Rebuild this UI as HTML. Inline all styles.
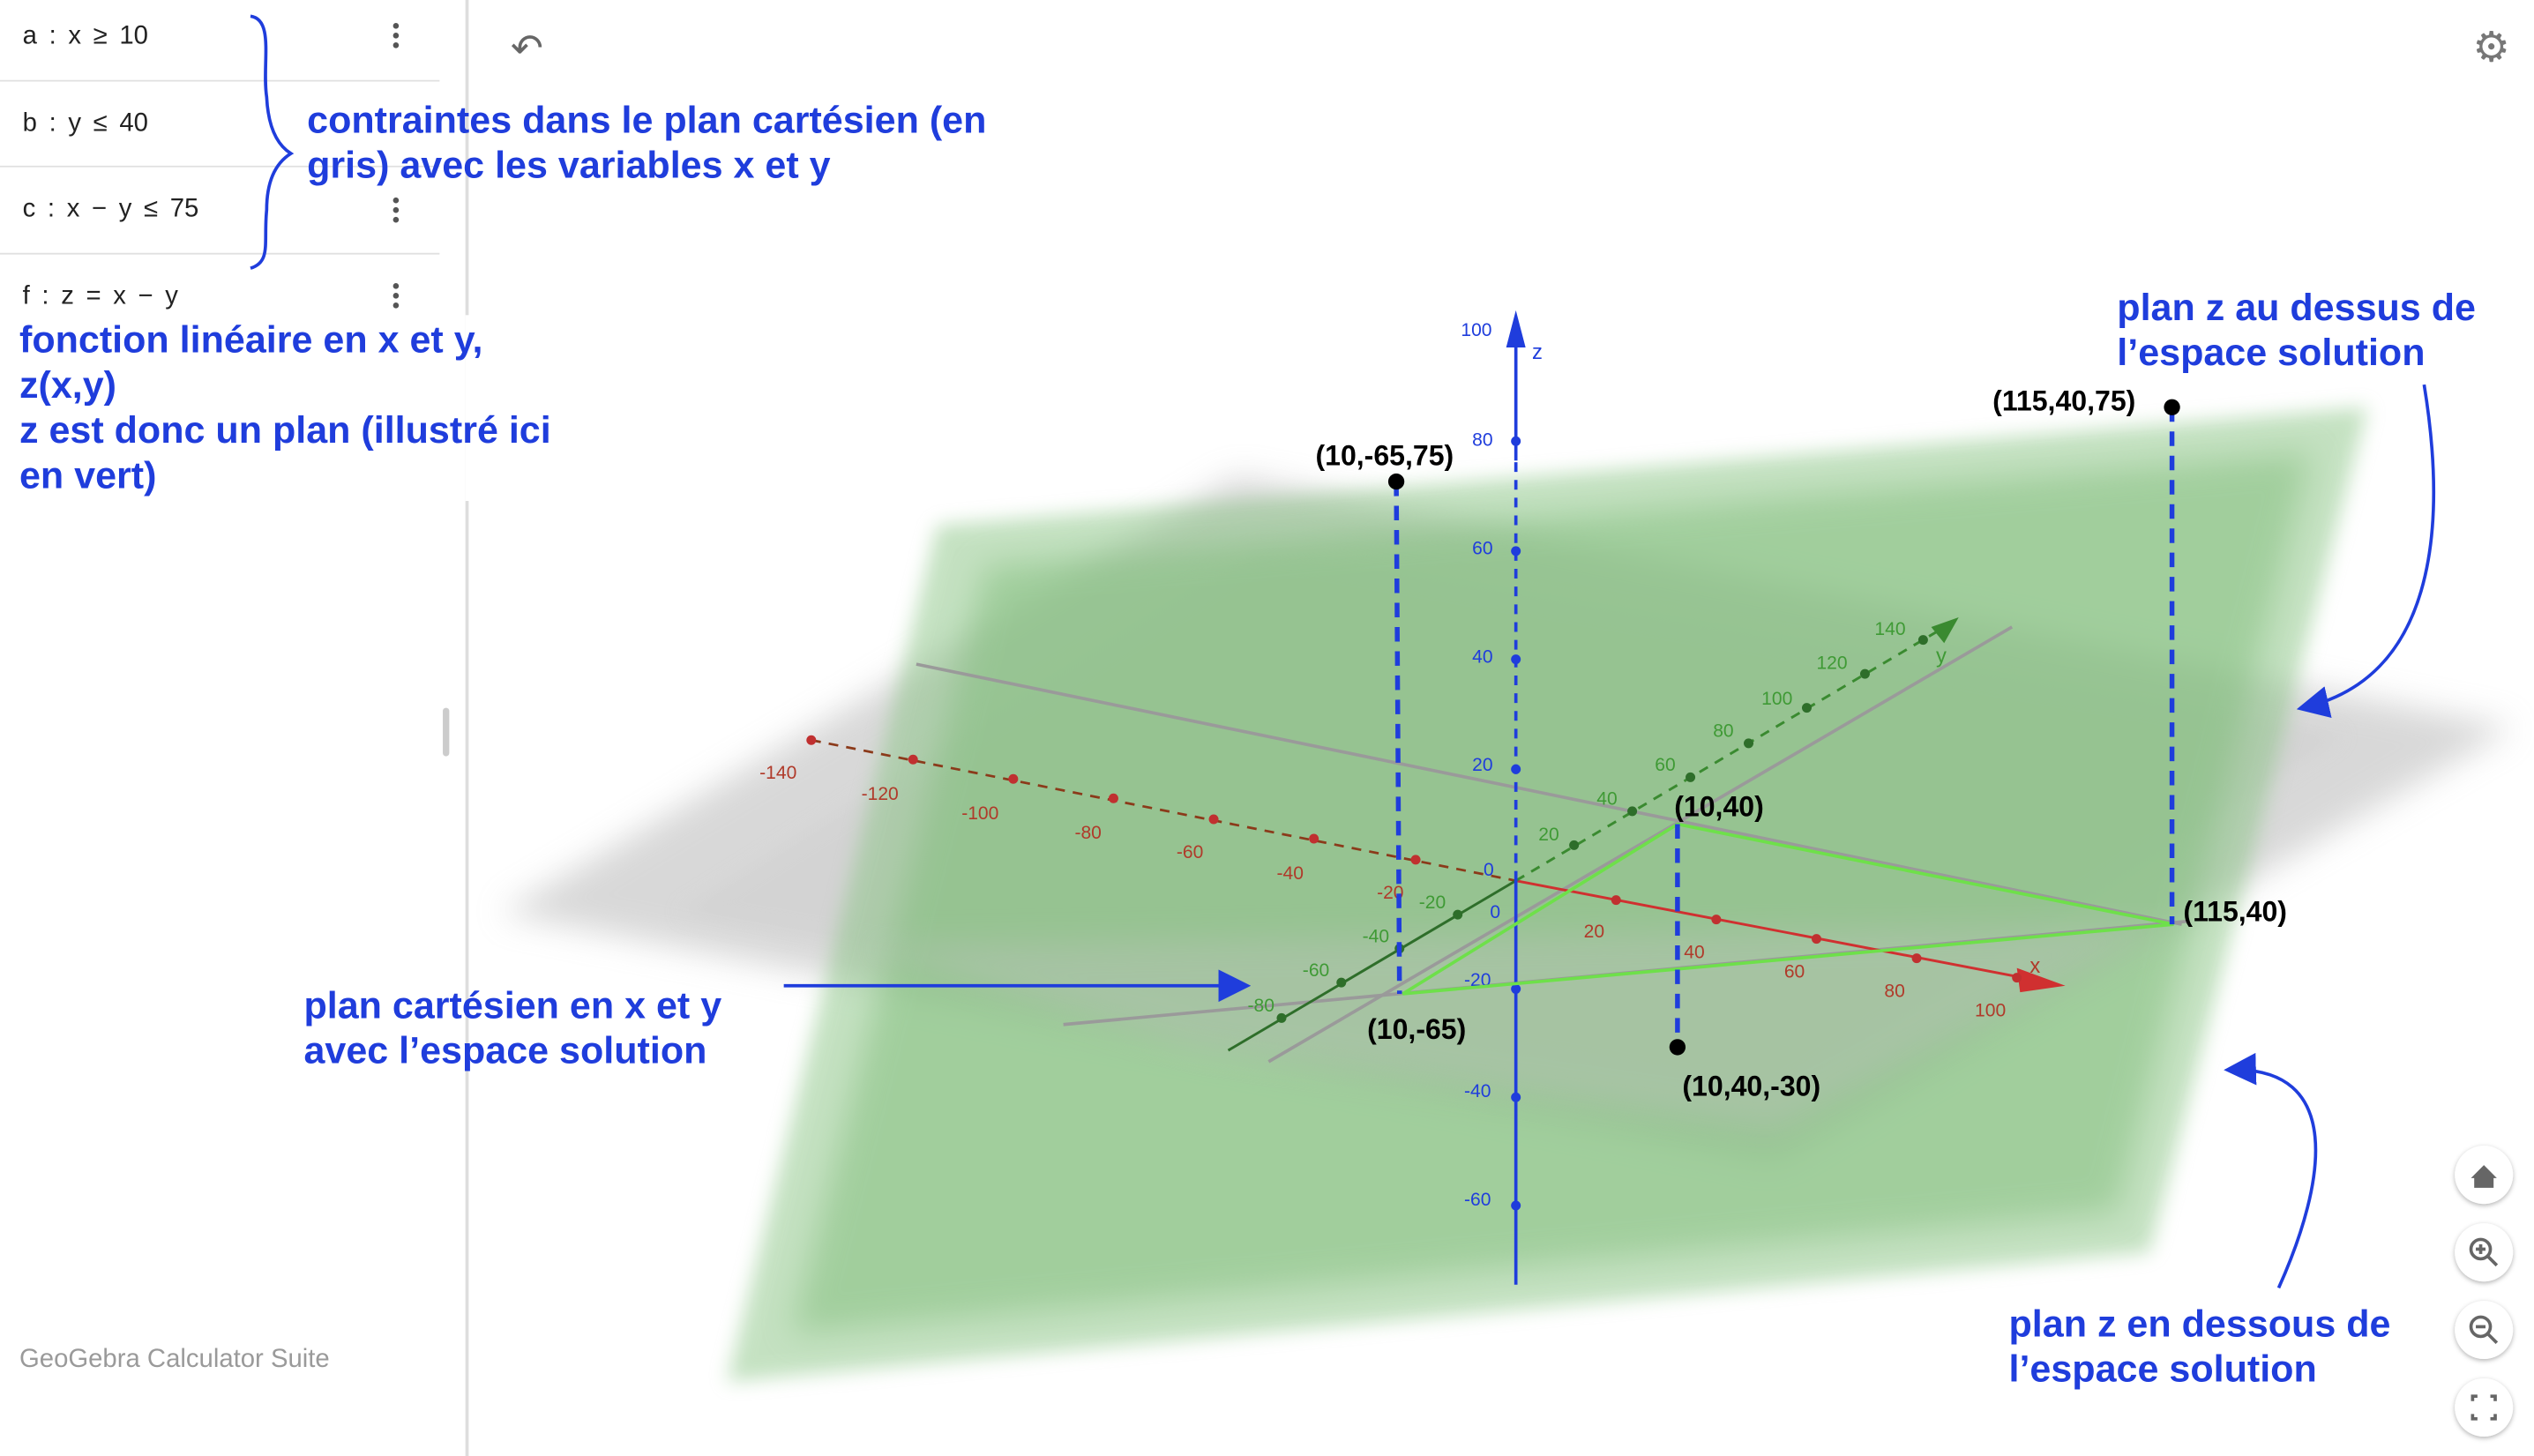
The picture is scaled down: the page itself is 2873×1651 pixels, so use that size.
<!DOCTYPE html>
<html><head><meta charset="utf-8"><style>
html,body{margin:0;padding:0;background:#fff;}
svg{display:block;}
text{font-family:"Liberation Sans",sans-serif;}
.ann{fill:#1f3ddc;font-weight:bold;font-size:23.5px;}
.lab{fill:#000;font-weight:bold;font-size:17.5px;}
.row{fill:#222;font-size:16px;word-spacing:3px;}
.tk{font-size:11.5px;}
</style></head><body>
<svg width="2873" height="1651" viewBox="0 0 1568 901" preserveAspectRatio="none" xmlns="http://www.w3.org/2000/svg">
<defs>
<filter id="b1" x="-10%" y="-10%" width="120%" height="120%"><feGaussianBlur stdDeviation="10"/></filter>
<filter id="b2" x="-10%" y="-10%" width="120%" height="120%"><feGaussianBlur stdDeviation="6"/></filter>
<filter id="sh"><feDropShadow dx="0" dy="1" stdDeviation="1.5" flood-opacity="0.3"/></filter>
<marker id="ah" markerWidth="10" markerHeight="10" refX="8" refY="5" orient="auto"><path d="M0,0 L10,5 L0,10 z" fill="#1f3ddc"/></marker>
</defs>
<!-- gray plane -->
<polygon points="310,565 765,295 1555,450 1098,717" fill="#c4c4c4" opacity="0.65" filter="url(#b1)"/>
<polygon points="420,565 780,340 1450,455 1098,680" fill="#cfcfcf" opacity="0.5" filter="url(#b2)"/>
<!-- green plane -->
<polygon points="580,325 1465,252 1330,775 450,855" fill="#8ac585" opacity="0.5" filter="url(#b2)"/>
<polygon points="610,350 1430,280 1310,750 490,825" fill="#7fbc79" opacity="0.5" filter="url(#b1)"/>
<polygon points="530,585 1345,572 1100,700 740,650" fill="#c4c4c4" opacity="0.35" filter="url(#b1)"/>
<!-- gray constraint lines -->
<g stroke="#9a9a9a" stroke-width="2">
<line x1="567" y1="411" x2="1350" y2="572"/>
<line x1="785" y1="657" x2="1245" y2="388"/>
<line x1="658" y1="634" x2="1355" y2="570"/>
</g>
<!-- x axis -->
<line x1="502" y1="458" x2="938" y2="545" stroke="#8b3a1a" stroke-width="1.5" stroke-dasharray="6,5"/>
<line x1="938" y1="545" x2="1262" y2="607" stroke="#d03030" stroke-width="1.6"/>
<polygon points="1278,610 1248,599 1250,614" fill="#d03030"/>
<g fill="#c03030">
<circle cx="502" cy="458" r="3"/><circle cx="565" cy="470" r="3"/><circle cx="627" cy="482" r="3"/><circle cx="689" cy="494" r="3"/><circle cx="751" cy="507" r="3"/><circle cx="813" cy="519" r="3"/><circle cx="876" cy="532" r="3"/><circle cx="1000" cy="557" r="3"/><circle cx="1062" cy="569" r="3"/><circle cx="1124" cy="581" r="3"/><circle cx="1186" cy="593" r="3"/><circle cx="1248" cy="605" r="3"/>
</g>
<g class="tk" fill="#b03a2a">
<text x="470" y="482">-140</text><text x="533" y="495">-120</text><text x="595" y="507">-100</text><text x="665" y="519">-80</text><text x="728" y="531">-60</text><text x="790" y="544">-40</text><text x="852" y="556">-20</text><text x="980" y="580">20</text><text x="1042" y="593">40</text><text x="1104" y="605">60</text><text x="1166" y="617">80</text><text x="1222" y="629">100</text>
<text x="1256" y="602" font-size="13">x</text>
</g>
<!-- y axis -->
<line x1="760" y1="650" x2="938" y2="545" stroke="#2e6e2a" stroke-width="1.6"/>
<line x1="938" y1="545" x2="1200" y2="390" stroke="#3a8a30" stroke-width="1.6" stroke-dasharray="6,5"/>
<polygon points="1212,382 1195,388 1203,398" fill="#3a8a30"/>
<g fill="#2e6e2a">
<circle cx="793" cy="630" r="3"/><circle cx="830" cy="608" r="3"/><circle cx="866" cy="587" r="3"/><circle cx="902" cy="566" r="3"/><circle cx="974" cy="523" r="3"/><circle cx="1010" cy="502" r="3"/><circle cx="1046" cy="481" r="3"/><circle cx="1082" cy="460" r="3"/><circle cx="1118" cy="438" r="3"/><circle cx="1154" cy="417" r="3"/><circle cx="1190" cy="396" r="3"/>
</g>
<g class="tk" fill="#3f9a35">
<text x="772" y="626">-80</text><text x="806" y="604">-60</text><text x="843" y="583">-40</text><text x="878" y="562">-20</text><text x="952" y="520">20</text><text x="988" y="498">40</text><text x="1024" y="477">60</text><text x="1060" y="456">80</text><text x="1090" y="436">100</text><text x="1124" y="414">120</text><text x="1160" y="393">140</text>
<text x="1198" y="410" font-size="13">y</text>
</g>
<!-- z axis -->
<line x1="938" y1="795" x2="938" y2="545" stroke="#1f3ddc" stroke-width="2"/>
<line x1="938" y1="545" x2="938" y2="285" stroke="#1f3ddc" stroke-width="2" stroke-dasharray="6,5"/>
<line x1="938" y1="285" x2="938" y2="210" stroke="#1f3ddc" stroke-width="2"/>
<polygon points="938,192 932,215 944,215" fill="#1f3ddc"/>
<g fill="#1f3ddc"><circle cx="938" cy="273" r="3"/><circle cx="938" cy="341" r="3"/><circle cx="938" cy="408" r="3"/><circle cx="938" cy="476" r="3"/><circle cx="938" cy="612" r="3"/><circle cx="938" cy="679" r="3"/><circle cx="938" cy="746" r="3"/></g>
<g class="tk" fill="#1f3ddc">
<text x="904" y="208">100</text><text x="948" y="222" font-size="13">z</text><text x="911" y="276">80</text><text x="911" y="343">60</text><text x="911" y="410">40</text><text x="911" y="477">20</text><text x="918" y="542">0</text><text x="922" y="568">0</text><text x="906" y="610">-20</text><text x="906" y="679">-40</text><text x="906" y="746">-60</text>
</g>
<!-- green triangle -->
<polygon points="868,615 1038,510 1345,572" fill="none" stroke="#6ee04a" stroke-width="2"/>
<!-- blue dashed verticals -->
<g stroke="#1f3ddc" stroke-width="3" stroke-dasharray="9,6">
<line x1="864" y1="298" x2="866" y2="615"/>
<line x1="1344" y1="252" x2="1344" y2="572"/>
<line x1="1038" y1="510" x2="1038" y2="648"/>
</g>
<g fill="#000"><circle cx="864" cy="298" r="5"/><circle cx="1344" cy="252" r="5"/><circle cx="1038" cy="648" r="5"/></g>
<text class="lab" x="814" y="288">(10,-65,75)</text>
<text class="lab" x="1233" y="254">(115,40,75)</text>
<text class="lab" x="1036" y="505">(10,40)</text>
<text class="lab" x="1351" y="570">(115,40)</text>
<text class="lab" x="846" y="643">(10,-65)</text>
<text class="lab" x="1041" y="678">(10,40,-30)</text>
<!-- annotation arrows -->
<g stroke="#1f3ddc" stroke-width="2" fill="none">
<line x1="485" y1="610" x2="770" y2="610" marker-end="url(#ah)"/>
<path d="M1500,238 C1515,330 1505,420 1425,438" marker-end="url(#ah)"/>
<path d="M1410,797 C1440,730 1450,660 1380,662" marker-end="url(#ah)"/>
</g>
<text class="ann" x="1310" y="198">plan z au dessus de</text>
<text class="ann" x="1310" y="226">l’espace solution</text>
<text class="ann" x="1243" y="827">plan z en dessous de</text>
<text class="ann" x="1243" y="855">l’espace solution</text>
<!-- left panel -->
<rect x="0" y="0" width="288" height="901" fill="#fff"/>
<line x1="289" y1="0" x2="289" y2="901" stroke="#ddd" stroke-width="2"/>
<rect x="274" y="438" width="4" height="30" rx="2" fill="#ccc"/>
<g stroke="#e0e0e0" stroke-width="1"><line x1="0" y1="50" x2="272" y2="50"/><line x1="0" y1="103" x2="272" y2="103"/><line x1="0" y1="157" x2="272" y2="157"/></g>
<text class="row" x="14" y="27">a : x ≥ 10</text>
<text class="row" x="14" y="81">b : y ≤ 40</text>
<text class="row" x="14" y="134">c : x − y ≤ 75</text>
<text class="row" x="14" y="188">f : z = x − y</text>
<g fill="#555"><circle cx="245" cy="16" r="1.8"/><circle cx="245" cy="22" r="1.8"/><circle cx="245" cy="28" r="1.8"/>
<circle cx="245" cy="124" r="1.8"/><circle cx="245" cy="130" r="1.8"/><circle cx="245" cy="136" r="1.8"/>
<circle cx="245" cy="177" r="1.8"/><circle cx="245" cy="183" r="1.8"/><circle cx="245" cy="189" r="1.8"/></g>
<rect x="288" y="195" width="60" height="115" fill="#fff"/>
<g stroke="#1f3ddc" stroke-width="2" fill="none"><path d="M155,10 C170,12 162,40 165,60 C166,80 172,90 180,95 C172,100 165,110 165,130 C163,150 168,162 155,166"/></g>
<text class="ann" x="190" y="82">contraintes dans le plan cartésien (en</text>
<text class="ann" x="190" y="110">gris) avec les variables x et y</text>
<text class="ann" x="188" y="630">plan cartésien en x et y</text>
<text class="ann" x="188" y="658">avec l’espace solution</text>
<text class="ann" x="12" y="218">fonction linéaire en x et y,</text>
<text class="ann" x="12" y="246">z(x,y)</text>
<text class="ann" x="12" y="274">z est donc un plan (illustré ici</text>
<text class="ann" x="12" y="302">en vert)</text>
<text x="12" y="846" font-size="16" fill="#9a9a9a">GeoGebra Calculator Suite</text>
<!-- top icons -->
<text x="316" y="38" font-size="24" fill="#666">↶</text>
<text x="1530" y="38" font-size="26" fill="#777">⚙</text>
<!-- right buttons -->
<g filter="url(#sh)" fill="#fff"><circle cx="1537" cy="727" r="18"/><circle cx="1537" cy="775" r="18"/><circle cx="1537" cy="823" r="18"/><circle cx="1537" cy="871" r="18"/></g>
<path d="M1529,729 L1537,721 L1545,729 L1543,729 L1543,735 L1531,735 L1531,729 z" fill="#666"/>
<g stroke="#666" stroke-width="2" fill="none"><circle cx="1535" cy="773" r="6"/><line x1="1539" y1="777" x2="1545" y2="783"/><line x1="1532" y1="773" x2="1538" y2="773"/><line x1="1535" y1="770" x2="1535" y2="776"/>
<circle cx="1535" cy="821" r="6"/><line x1="1539" y1="825" x2="1545" y2="831"/><line x1="1532" y1="821" x2="1538" y2="821"/>
<path d="M1530,867 v-3 h3 M1541,864 h3 v3 M1544,875 v3 h-3 M1533,878 h-3 v-3"/></g>
</svg>
</body></html>
